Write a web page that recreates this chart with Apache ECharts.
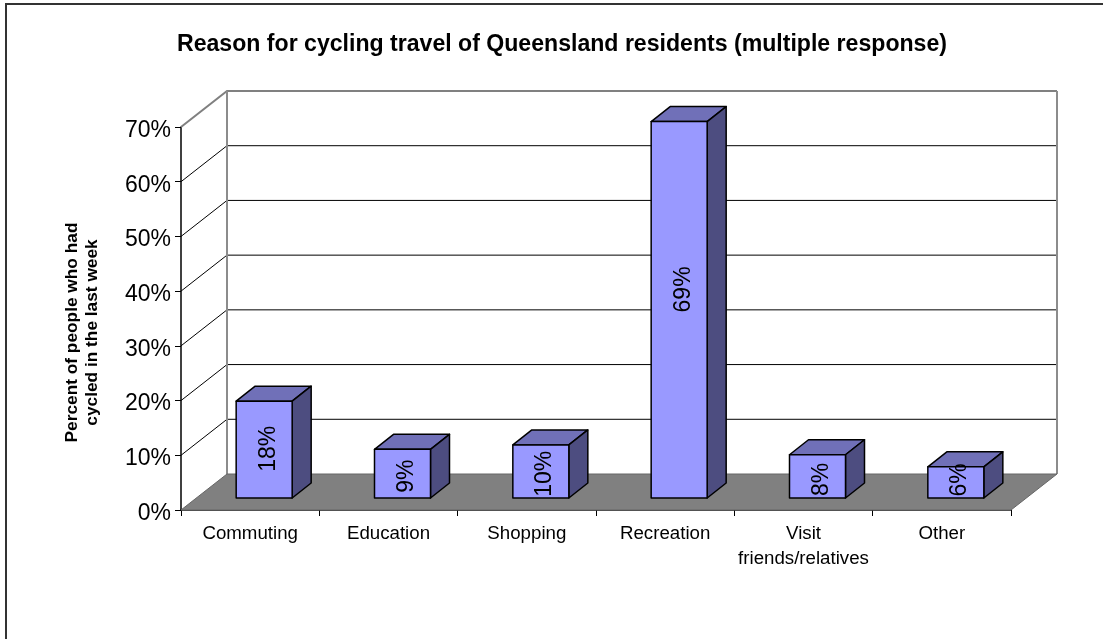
<!DOCTYPE html>
<html>
<head>
<meta charset="utf-8">
<style>html,body{margin:0;padding:0;background:#fff}#chart{width:1103px;height:639px}</style>
<script src="https://cdn.jsdelivr.net/npm/echarts@6/dist/echarts.min.js"></script>
</head>
<body>
<div id="chart"></div>
<script>
const categories = ['Commuting', 'Education', 'Shopping', 'Recreation', 'Visit\nfriends/relatives', 'Other'];
const percents = [17.7, 8.9, 9.7, 68.8, 7.9, 5.7];
const yTicks = [0, 10, 20, 30, 40, 50, 60, 70];

// pseudo 3d box, offsets in px
const wallDx = 46, wallDy = -36;
const barDx = 15, barDy = -12;
const boxDx = 19, boxDy = -15;
const barW = 56;

const font = 'Liberation Sans, Arial, sans-serif';
const ec = echarts.init(document.getElementById('chart'));

function renderFloor(params, api) {
  const a = api.coord([0, 0]);
  const left = params.coordSys.x, right = left + params.coordSys.width;
  const style = { fill: '#808080', stroke: '#666', lineWidth: 1 };
  return { type: 'polygon', shape: { points: [
    [left, a[1]], [left + wallDx, a[1] + wallDy],
    [right + wallDx, a[1] + wallDy], [right, a[1]]
  ] }, style, silent: true };
}

function renderGrid(params, api) {
  const v = api.value(0);
  const y = api.coord([0, v])[1];
  const left = params.coordSys.x, right = left + params.coordSys.width;
  const top = v === 70;
  return { type: 'polyline', shape: { points: [
    [left, y], [left + wallDx, y + wallDy], [right + wallDx, y + wallDy]
  ] }, style: { fill: null, stroke: top ? '#808080' : '#000', lineWidth: top ? 2 : 1 }, silent: true };
}

function renderWalls(params, api) {
  const base = api.coord([0, 0])[1], topY = api.coord([0, 70])[1];
  const left = params.coordSys.x, right = left + params.coordSys.width;
  const line = (x) => ({ type: 'line', shape: { x1: x, y1: topY + wallDy, x2: x, y2: base + wallDy },
    style: { stroke: '#8c8c8c', lineWidth: 2 } });
  return { type: 'group', silent: true, children: [line(left + wallDx), line(right + wallDx)] };
}

function renderBar(params, api) {
  const c = api.coord([api.value(0), api.value(1)]);
  const b = api.coord([api.value(0), 0]);
  const x0 = c[0] + barDx - barW / 2 - 1, x1 = x0 + barW;
  const yt = c[1] + barDy, yb = b[1] + barDy;
  const h = yb - yt;
  // label sits a bit under the middle of the bar, not centred
  const labelY = Math.min(yb + 6 - 0.57 * h, yb - 18);
  const s = (fill) => ({ fill, stroke: '#000', lineWidth: 1.5, lineJoin: 'round' });
  return { type: 'group', children: [
    { type: 'polygon', shape: { points: [[x0, yt], [x0 + boxDx, yt + boxDy], [x1 + boxDx, yt + boxDy], [x1, yt]] }, style: s('#7070b8') },
    { type: 'polygon', shape: { points: [[x1, yt], [x1 + boxDx, yt + boxDy], [x1 + boxDx, yb + boxDy], [x1, yb]] }, style: s('#4d4d80') },
    { type: 'rect', shape: { x: x0, y: yt, width: barW, height: h }, style: s('#9999ff') },
    { type: 'text', x: (x0 + x1) / 2 + 4, y: labelY, rotation: Math.PI / 2,
      style: { text: Math.round(api.value(1)) + '%', font: '23px ' + font, fill: '#000', align: 'center', verticalAlign: 'middle' } }
  ] };
}

ec.setOption({
  animation: false,
  backgroundColor: '#fff',
  title: {
    text: 'Reason for cycling travel of Queensland residents (multiple response)',
    left: 557, top: 28, textAlign: 'center',
    textStyle: { fontFamily: font, fontSize: 23.1, fontWeight: 'bold', color: '#000' }
  },
  grid: { left: 181, right: 92, top: 127, bottom: 129 },
  xAxis: {
    type: 'category', data: categories,
    axisLine: { lineStyle: { color: '#000', width: 1.5 } },
    axisTick: { show: true, length: 6, lineStyle: { color: '#000' } },
    axisLabel: { fontFamily: font, fontSize: 18.7, color: '#000', margin: 11, lineHeight: 25, interval: 0 }
  },
  yAxis: {
    type: 'value', min: 0, max: 70, interval: 10,
    name: 'Percent of people who had\ncycled in the last week',
    nameLocation: 'middle', nameGap: 79, nameRotate: 90,
    nameTextStyle: { fontFamily: font, fontSize: 17.3, fontWeight: 'bold', color: '#000', lineHeight: 20, padding: [0, 28, 0, 0] },
    axisLine: { show: true, lineStyle: { color: '#000', width: 1.5 } },
    axisTick: { show: true, length: 6, lineStyle: { color: '#000' } },
    axisLabel: {
      margin: 10,
      formatter: (v) => '{t|' + v + '%}',
      // rich block so the padding nudges the labels down to the tick
      rich: { t: { fontFamily: font, fontSize: 23, color: '#000', padding: [7, 0, 0, 0] } }
    },
    splitLine: { show: false }
  },
  series: [
    { type: 'custom', renderItem: renderGrid, data: yTicks.filter(v => v > 0).map(v => [v]), encode: { y: 0 }, silent: true, z: 1 },
    { type: 'custom', renderItem: renderWalls, data: [[0]], silent: true, z: 2, encode: { y: 0 } },
    { type: 'custom', renderItem: renderFloor, data: [[0]], silent: true, z: 3, encode: { y: 0 } },
    { type: 'custom', renderItem: renderBar, data: percents.map((v, i) => [i, v]), encode: { x: 0, y: 1 }, z: 4 }
  ],
  graphic: [
    { type: 'polyline', shape: { points: [[6, 639], [6, 4], [1103, 4]] }, style: { fill: null, stroke: '#333', lineWidth: 2 }, silent: true }
  ]
});
</script>
</body>
</html>
